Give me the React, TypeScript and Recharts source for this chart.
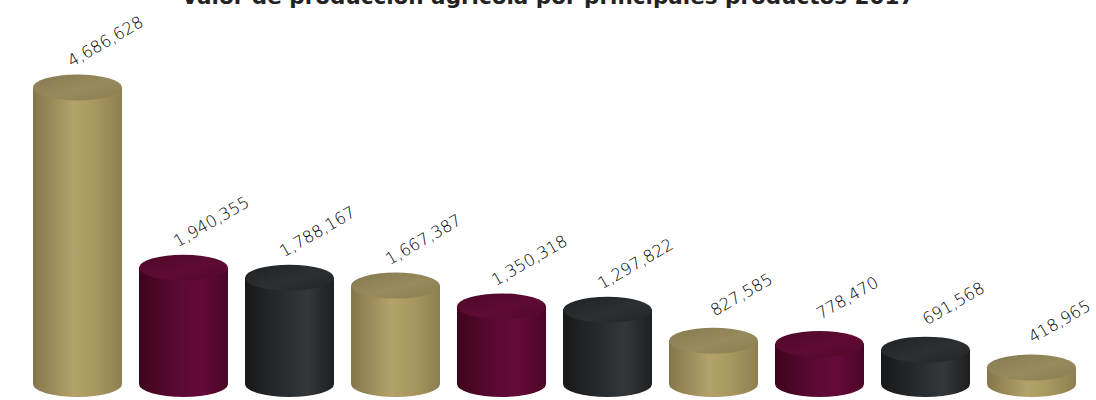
import { BarChart, Bar, XAxis, YAxis, LabelList } from 'recharts'

const title = 'Valor de producción agrícola por principales productos 2017'
const products = [
  'Producto 1',
  'Producto 2',
  'Producto 3',
  'Producto 4',
  'Producto 5',
  'Producto 6',
  'Producto 7',
  'Producto 8',
  'Producto 9',
  'Producto 10',
]
const values = [4686628, 1940355, 1788167, 1667387, 1350318, 1297822, 827585, 778470, 691568, 418965]

const data = products.map((name, i) => ({ name, value: values[i] }))

// gold, maroon, charcoal — repeats across the bars
const PALETTE = [
  { side: ['#85764a', '#b4a26b', '#a8975f', '#8e7f50'], top: ['#857a50', '#978b5d', '#8a7e52'] },
  { side: ['#3e041c', '#5c0a34', '#650a3a', '#4a0526'], top: ['#4d0727', '#5f0b33', '#52082b'] },
  { side: ['#16181a', '#2a2d30', '#33373a', '#1d2022'], top: ['#1f2225', '#2c3033', '#222528'] },
]

const fmt = (v: number) => v.toLocaleString('en-US')

const Cylinder = (props: any) => {
  const { x, y, width, height, index } = props
  const p = PALETTE[index % 3]
  const rx = width / 2
  const ry = 13
  const bottom = y + height - 11
  const sid = `side-${index}`
  const tid = `top-${index}`
  return (
    <g>
      <defs>
        <linearGradient id={sid} x1='0' y1='0' x2='1' y2='0'>
          <stop offset='0%' stopColor={p.side[0]} />
          <stop offset='45%' stopColor={p.side[1]} />
          <stop offset='70%' stopColor={p.side[2]} />
          <stop offset='100%' stopColor={p.side[3]} />
        </linearGradient>
        <linearGradient id={tid} x1='0' y1='0' x2='1' y2='1'>
          <stop offset='0%' stopColor={p.top[0]} />
          <stop offset='55%' stopColor={p.top[1]} />
          <stop offset='100%' stopColor={p.top[2]} />
        </linearGradient>
      </defs>
      <path
        d={`M${x},${y} L${x},${bottom} A${rx},${ry} 0 0 0 ${x + width},${bottom} L${x + width},${y} Z`}
        fill={`url(#${sid})`}
      />
      <ellipse cx={x + rx} cy={y} rx={rx} ry={ry} fill={`url(#${tid})`} />
    </g>
  )
}

const ValueLabel = (props: any) => {
  const { x, y, width, value } = props
  const cx = x + width / 2 + 28
  const cy = y - 46
  return (
    <text
      x={cx}
      y={cy}
      textAnchor='middle'
      dominantBaseline='central'
      transform={`rotate(-30, ${cx}, ${cy})`}
      fontFamily='DejaVu Sans'
      fontWeight={300}
      fontSize={16.5}
      fill='#000'
    >
      {fmt(value)}
    </text>
  )
}

export default function App() {
  return (
    <div style={{ position: 'absolute', left: 0, top: 0, width: 1096, height: 400, overflow: 'hidden', background: '#fff' }}>
      <BarChart width={1096} height={400} data={data} margin={{ top: 67, right: 12, left: 24, bottom: 5 }} barSize={89}>
        <XAxis dataKey='name' hide />
        <YAxis hide domain={[0, 5000000]} />
        <Bar dataKey='value' shape={<Cylinder />} isAnimationActive={false}>
          <LabelList dataKey='value' content={<ValueLabel />} />
        </Bar>
      </BarChart>
      <svg width={1096} height={20} style={{ position: 'absolute', left: 0, top: 0 }}>
        <text x={548} y={4} textAnchor='middle' fontFamily='DejaVu Sans' fontWeight='bold' fontSize={21.5} fill='#222'>
          {title}
        </text>
      </svg>
    </div>
  )
}
